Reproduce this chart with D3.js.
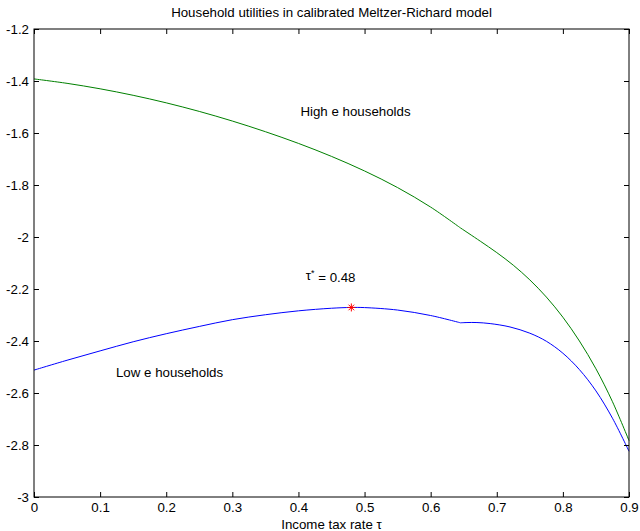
<!DOCTYPE html>
<html>
<head>
<meta charset="utf-8">
<script src="https://cdn.jsdelivr.net/npm/d3@7"></script>
<style>
  html, body { margin: 0; padding: 0; background: #fff; }
  svg { display: block; font-family: "Liberation Sans", Arial, Helvetica, sans-serif; }
</style>
</head>
<body>
<svg id="chart" width="640" height="531"></svg>
<script>
// Income tax rate grid and household utilities
const tauHigh = [0, 0.05, 0.1, 0.15, 0.2, 0.25, 0.3, 0.35, 0.4, 0.45, 0.5, 0.55, 0.6, 0.645, 0.675, 0.7, 0.725, 0.75, 0.775, 0.8, 0.825, 0.85, 0.875, 0.9];
const utilHigh = [-1.392, -1.409, -1.430, -1.455, -1.484, -1.517, -1.554, -1.595, -1.640, -1.690, -1.746, -1.810, -1.885, -1.965, -2.016, -2.060, -2.1085, -2.165, -2.231, -2.3085, -2.400, -2.507, -2.6335, -2.783];

const tauLow = [0, 0.05, 0.1, 0.15, 0.2, 0.25, 0.3, 0.35, 0.4, 0.45, 0.48, 0.5, 0.55, 0.6, 0.645, 0.655, 0.67, 0.69, 0.72, 0.75, 0.775, 0.8, 0.825, 0.85, 0.875, 0.9];
const utilLow = [-2.512, -2.474, -2.438, -2.403, -2.372, -2.344, -2.318, -2.299, -2.284, -2.274, -2.271, -2.2715, -2.281, -2.302, -2.330, -2.329, -2.329, -2.333, -2.346, -2.370, -2.401, -2.447, -2.510, -2.592, -2.697, -2.824];

// Tax rate where both utility curves change regime
const tauKink = 0.645;

// Median voter's preferred rate
const tauStar = [0.48];
const utilStar = [-2.271];

const xTicks = [0, 0.1, 0.2, 0.3, 0.4, 0.5, 0.6, 0.7, 0.8, 0.9];
const yTicks = [-1.2, -1.4, -1.6, -1.8, -2, -2.2, -2.4, -2.6, -2.8, -3];

const svg = d3.select("#chart");
const m = { left: 34, right: 629, top: 29, bottom: 497 };
const fontSize = "13.3px";

const x = d3.scaleLinear().domain([0, 0.9]).range([m.left, m.right]);
const y = d3.scaleLinear().domain([-3, -1.2]).range([m.bottom, m.top]);

const plot = svg.append("g");

// Each curve is smooth on either side of the kink
const line = d3.line().x(d => x(d[0])).y(d => y(d[1])).curve(d3.curveCatmullRom.alpha(0.5));

function drawCurve(taus, utils, color) {
  const pts = d3.zip(taus, utils);
  const pieces = [pts.filter(p => p[0] <= tauKink), pts.filter(p => p[0] >= tauKink)];
  plot.append("path")
    .attr("d", pieces.map(p => line(p)).join(""))
    .attr("fill", "none")
    .attr("stroke", color)
    .attr("stroke-width", 1);
}
drawCurve(tauHigh, utilHigh, "#008000");
drawCurve(tauLow, utilLow, "#0000ff");

// Asterisk marker at the optimum
const r = 4;
const star = plot.selectAll("g.star").data(d3.zip(tauStar, utilStar)).join("g")
  .attr("class", "star")
  .attr("transform", d => `translate(${x(d[0])},${y(d[1])})`);
[[0, -r, 0, r], [-r, 0, r, 0], [-r * 0.7, -r * 0.7, r * 0.7, r * 0.7], [-r * 0.7, r * 0.7, r * 0.7, -r * 0.7]]
  .forEach(s => star.append("line")
    .attr("x1", s[0]).attr("y1", s[1]).attr("x2", s[2]).attr("y2", s[3])
    .attr("stroke", "#ff0000").attr("stroke-width", 1));

// Box axes with inward ticks on all four sides
const tickLen = 5;
const fmt = d => d3.format("~g")(d).replace("\u2212", "-");

const bottomAxis = d3.axisBottom(x).tickValues(xTicks).tickSizeInner(-tickLen).tickSizeOuter(0)
  .tickPadding(6).tickFormat(fmt);
const topAxis = d3.axisTop(x).tickValues(xTicks).tickSizeInner(-tickLen).tickSizeOuter(0).tickFormat("");
const leftAxis = d3.axisLeft(y).tickValues(yTicks).tickSizeInner(-tickLen).tickSizeOuter(0)
  .tickPadding(5).tickFormat(fmt);
const rightAxis = d3.axisRight(y).tickValues(yTicks).tickSizeInner(-tickLen).tickSizeOuter(0).tickFormat("");

function styleAxis(g) {
  g.select(".domain").remove();
  g.selectAll(".tick line").attr("stroke", "#000");
  g.selectAll(".tick text").attr("fill", "#000")
    .style("font-size", fontSize)
    .style("font-family", "'Liberation Sans', Arial, Helvetica, sans-serif");
}

svg.append("g").attr("transform", `translate(0,${m.bottom})`).call(bottomAxis).call(styleAxis);
svg.append("g").attr("transform", `translate(0,${m.top})`).call(topAxis).call(styleAxis);
svg.append("g").attr("transform", `translate(${m.left},0)`).call(leftAxis).call(styleAxis);
svg.append("g").attr("transform", `translate(${m.right},0)`).call(rightAxis).call(styleAxis);

svg.append("rect")
  .attr("x", m.left).attr("y", m.top)
  .attr("width", m.right - m.left).attr("height", m.bottom - m.top)
  .attr("fill", "none").attr("stroke", "#000").attr("stroke-width", 1);

// Title and axis label
svg.append("text")
  .attr("x", (m.left + m.right) / 2).attr("y", 17)
  .attr("text-anchor", "middle").style("font-size", fontSize)
  .text("Household utilities in calibrated Meltzer-Richard model");

svg.append("text")
  .attr("x", (m.left + m.right) / 2).attr("y", 529)
  .attr("text-anchor", "middle").style("font-size", fontSize)
  .text("Income tax rate τ");

// Annotations placed in data coordinates
const notes = svg.append("g").style("font-size", fontSize);
notes.append("text").attr("x", x(0.403)).attr("y", y(-1.518)).attr("dy", "0.35em")
  .text("High e households");
notes.append("text").attr("x", x(0.124)).attr("y", y(-2.52)).attr("dy", "0.35em")
  .text("Low e households");
const tsText = notes.append("text").attr("x", x(0.411)).attr("y", y(-2.149)).attr("dy", "0.35em");
tsText.append("tspan").text("τ");
tsText.append("tspan").attr("dy", "-0.45em").style("font-size", "9px").text("*");
tsText.append("tspan").attr("dy", "0.45em").text(" = 0.48");
</script>
</body>
</html>
